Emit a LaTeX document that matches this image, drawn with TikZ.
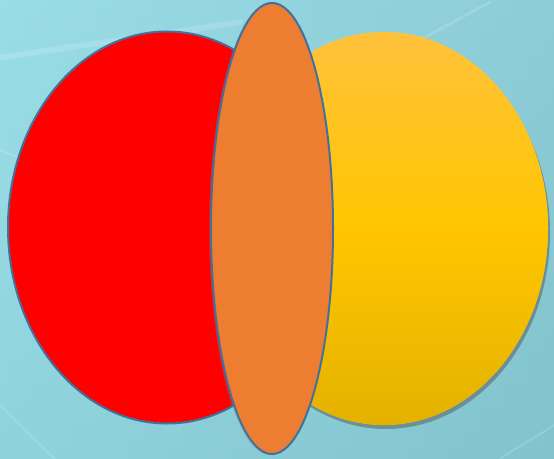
\documentclass[tikz,border=0pt]{standalone}
\usetikzlibrary{shapes.geometric,shadows}
\definecolor{bgtop}{HTML}{93D6E0}
\definecolor{bgbot}{HTML}{7EC3CC}
\definecolor{bgleft}{HTML}{A0E4ED}
\definecolor{bgright}{HTML}{86C4CE}
\definecolor{outl}{HTML}{41719C}
\definecolor{redfill}{HTML}{FF0000}
\definecolor{orfill}{HTML}{ED7D31}
\definecolor{ytop}{HTML}{FFC23C}
\definecolor{ymid}{HTML}{FFC600}
\definecolor{ybot}{HTML}{E4B100}
\tikzset{
  blob/.style={ellipse, inner sep=0pt, outer sep=0pt},
  outlined/.style={draw=outl, line width=2bp},
  streak/.style={white, opacity=0.15, line cap=round}
}
\begin{document}
\begin{tikzpicture}[x=1bp,y=-1bp]
  % background
  \useasboundingbox (0,0) rectangle (554,459);
  \shade[top color=bgtop, bottom color=bgbot] (0,0) rectangle (554,459);
  \shade[left color=bgleft, right color=bgright, opacity=0.5] (0,0) rectangle (554,459);
  % faint streaks
  \draw[streak, line width=6bp] (0,58) .. controls (80,45) and (160,35) .. (240,22);
  \draw[streak, line width=2bp] (0,150) -- (50,170);
  \draw[streak, line width=3bp] (420,40) -- (490,2);
  \draw[streak, line width=2bp] (0,405) .. controls (20,425) and (40,445) .. (55,459);
  \draw[streak, line width=2bp] (500,459) .. controls (520,445) and (540,435) .. (554,425);
  % shapes
  \node[blob, fill=ytop, minimum width=328bp, minimum height=393bp,
        drop shadow={shadow xshift=2bp, shadow yshift=-4bp, opacity=0.45, fill=black!70},
        top color=ytop, bottom color=ybot, middle color=ymid] (yellow) at (384,228.5) {};
  \node[blob, outlined, fill=redfill, minimum width=318bp, minimum height=392bp] (red) at (167,227.5) {};
  \node[blob, outlined, fill=orfill, minimum width=122bp, minimum height=451bp,
        drop shadow={shadow xshift=-2bp, shadow yshift=-1bp, opacity=0.25}] (orange) at (272,228.5) {};
\end{tikzpicture}
\end{document}
